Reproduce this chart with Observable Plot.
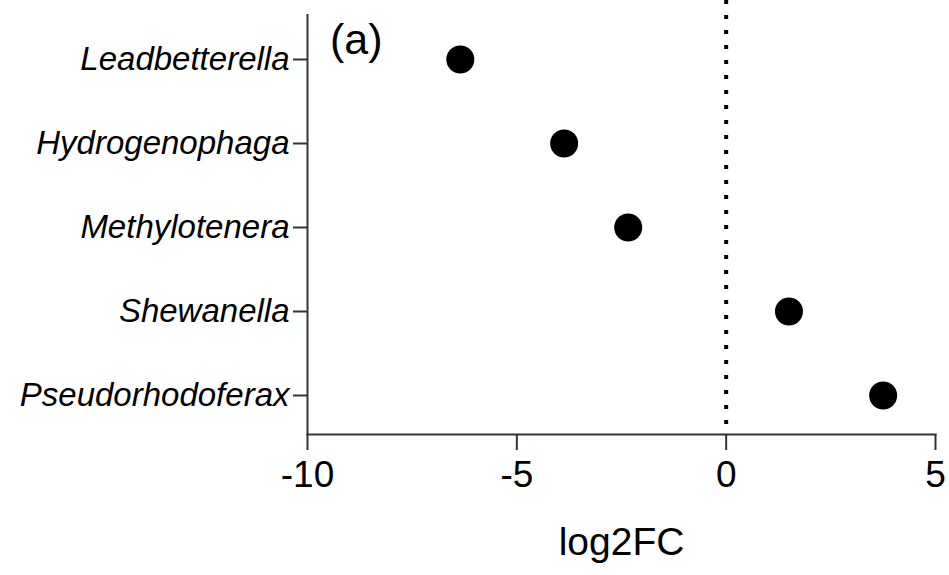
<!DOCTYPE html>
<html><head><meta charset="utf-8">
<script src="https://cdn.jsdelivr.net/npm/d3@7"></script>
<script src="https://cdn.jsdelivr.net/npm/@observablehq/plot@0.6"></script>
<style>
body{margin:0;background:#fff;font-family:"Liberation Sans",Arial,sans-serif;}
#chart{position:relative;width:949px;height:575px;}
#panel{position:absolute;left:330px;top:18px;font-size:43px;line-height:1;color:#000;}
</style></head>
<body><div id="chart"><div id="panel">(a)</div></div>
<script>
const genera = ["Leadbetterella","Hydrogenophaga","Methylotenera","Shewanella","Pseudorhodoferax"];
const log2FC = [-6.35, -3.87, -2.34, 1.5, 3.75];
const xTicks = [-10, -5, 0, 5];
const data = genera.map((g,i)=>({genus:g, value:log2FC[i]}));
const plot = Plot.plot({
  width: 949, height: 575,
  marginLeft: 307, marginRight: 14, marginTop: 0, marginBottom: 141,
  style: {fontFamily: '"Liberation Sans", Arial, sans-serif', fontSize: "34px", color: "#000", background: "#fff"},
  x: {domain: [-10, 5], ticks: xTicks, label: null},
  y: {domain: genera, type: "point", range: [58, 395], padding: 0, label: null},
  marks: [
    Plot.ruleX([0], {stroke: "#000", strokeWidth: 4, strokeDasharray: "4 11"}),
    Plot.ruleX([-10], {stroke: "#333", strokeWidth: 2, insetTop: 14}),
    Plot.frame({anchor: "bottom", stroke: "#333", strokeWidth: 2}),
    Plot.axisX({ticks: xTicks, tickSize: 16, tickPadding: 10, fontSize: 37, stroke: "#333", strokeWidth: 2, tickFormat: d => String(d), label: null}),
    Plot.axisY({tickSize: 14, tickPadding: 4, fontSize: 33, fontStyle: "italic", stroke: "#333", strokeWidth: 2, label: null}),
    Plot.dot(data, {x: "value", y: "genus", r: 14, fill: "#000", stroke: null}),
    Plot.text(["log2FC"], {frameAnchor: "bottom", dy: 120, fontSize: 39, text: d => d})
  ]
});
document.getElementById("chart").prepend(plot);
</script></body></html>
